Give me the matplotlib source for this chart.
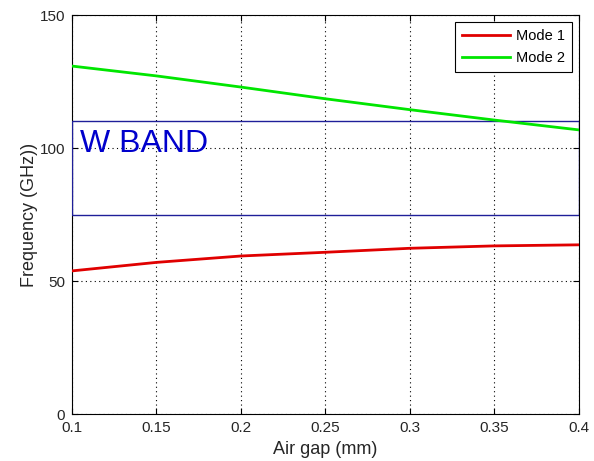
import matplotlib
matplotlib.use("Agg")
import matplotlib.pyplot as plt
from matplotlib.patches import Rectangle
import numpy as np

air_gap = [0.10, 0.15, 0.20, 0.25, 0.30, 0.35, 0.40]
mode1 = [53.8, 57.0, 59.4, 60.8, 62.3, 63.2, 63.6]
mode2 = [130.8, 127.1, 122.9, 118.5, 114.4, 110.5, 106.8]
band_low, band_high = 75, 110
band_label = "W BAND"
x_ticks = [0.1, 0.15, 0.2, 0.25, 0.3, 0.35, 0.4]
x_tick_labels = ["0.1", "0.15", "0.2", "0.25", "0.3", "0.35", "0.4"]
y_ticks = [0, 50, 100, 150]

plt.rcParams['font.family'] = ['Liberation Sans', 'DejaVu Sans']

fig = plt.figure(figsize=(5.94, 4.61), dpi=100)
ax = fig.add_axes([72/594, 1 - 414/461, (579-72)/594, (414-15)/461])

ax.add_patch(Rectangle((air_gap[0], band_low), air_gap[-1] - air_gap[0], band_high - band_low,
                       fill=False, edgecolor=(0.12, 0.12, 0.6), linewidth=1.0, zorder=3))
ax.text(0.1045, 101.5, band_label, color=(0.0, 0.0, 0.8), fontsize=23, va='center', ha='left', zorder=4)

ax.plot(air_gap, mode1, color=(0.88, 0.0, 0.0), linewidth=2, label="Mode 1", zorder=5)
ax.plot(air_gap, mode2, color=(0.0, 0.9, 0.0), linewidth=2, label="Mode 2", zorder=5)

ax.set_xlim(0.1, 0.4)
ax.set_ylim(0, 150)
ax.set_xticks(x_ticks)
ax.set_xticklabels(x_tick_labels)
ax.set_yticks(y_ticks)
ax.tick_params(direction='in', top=True, right=True, labelsize=11, length=4, pad=5,
               labelcolor=(0.15, 0.15, 0.15))
ax.grid(True, linestyle=(0, (1, 3)), color='black', linewidth=0.8)
ax.set_axisbelow(True)
ax.set_xlabel("Air gap (mm)", fontsize=13, labelpad=4.5, color=(0.15, 0.15, 0.15))
ax.set_ylabel("Frequency (GHz))", fontsize=13, labelpad=1, color=(0.15, 0.15, 0.15))
for s in ax.spines.values():
    s.set_linewidth(0.8)

leg = ax.legend(loc='upper right', fontsize=10.5, fancybox=False, edgecolor='black',
                framealpha=1, borderaxespad=0.45, handlelength=3.3, borderpad=0.5,
                labelspacing=0.55, handletextpad=0.4)
leg.get_frame().set_linewidth(0.8)

fig.savefig("out.png", dpi=100, facecolor='white')
